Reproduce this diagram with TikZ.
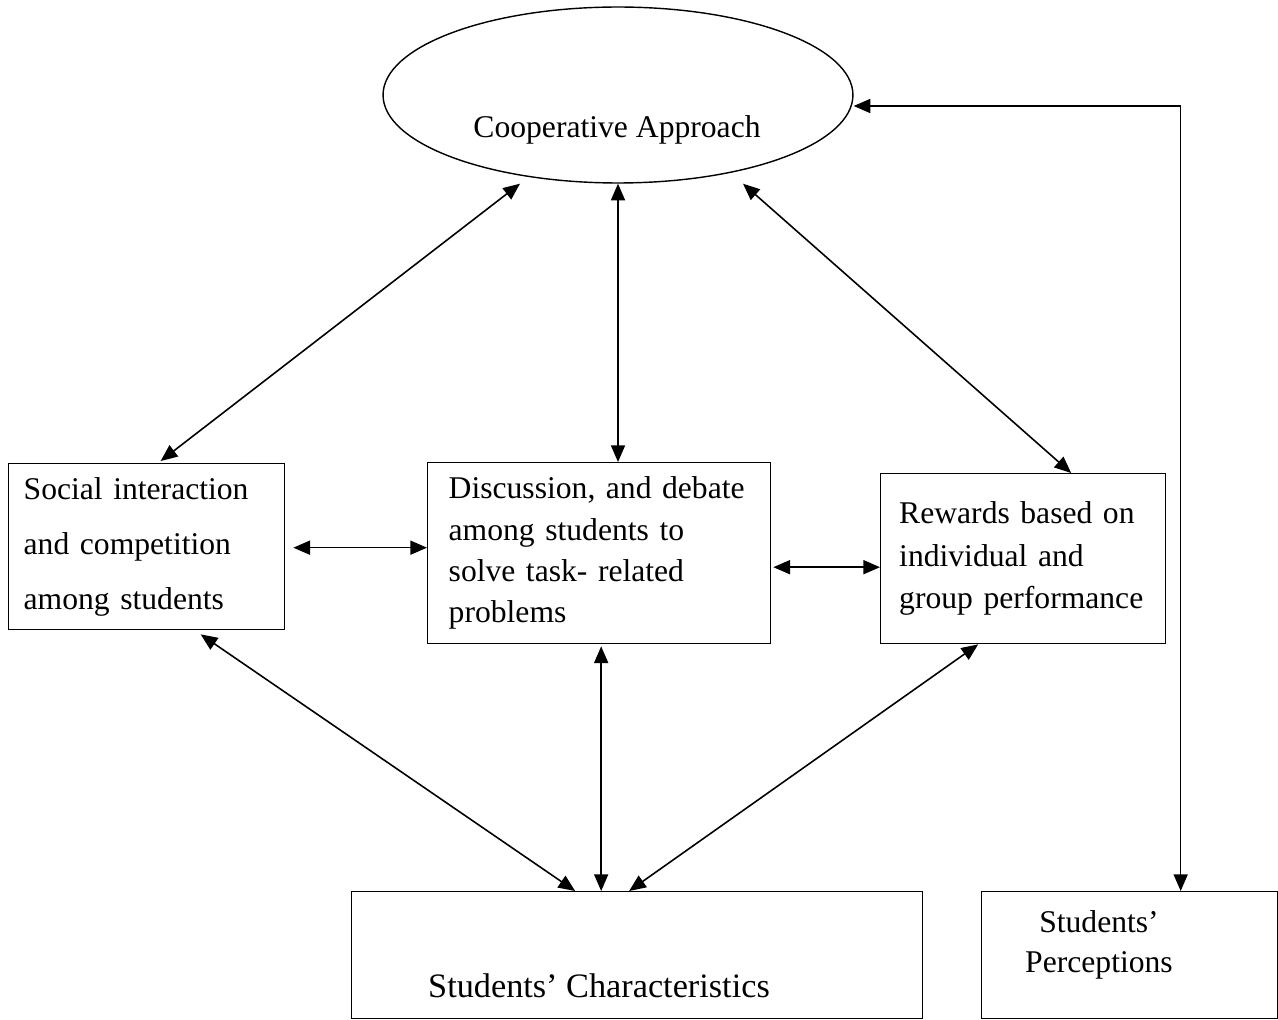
\documentclass[tikz,border=0pt]{standalone}
\usepackage{fontspec}
\setmainfont{Liberation Serif}
\usepackage{tikz}
\usetikzlibrary{shapes.geometric, arrows.meta, positioning, calc}

\begin{document}
\begin{tikzpicture}[x=0.02cm, y=-0.02cm, line width=0.8pt,
    >={Triangle[length=9.5pt,width=8pt]},
    box/.style={draw, anchor=north west, align=left, inner sep=0pt},
    oval/.style={draw, ellipse, inner sep=0pt, minimum width=9.4cm, minimum height=3.52cm},
    txt/.style={inner sep=0pt, font=\fontsize{18}{22.7}\selectfont},
    link/.style={<->, line width=0.9pt}]
    \useasboundingbox (0,0) rectangle (1278,1020);

    \node[oval] (coop) at (618,95) {};
    \node[txt, anchor=base] (coopText) at (617,138) {Cooperative Approach};

    \node[box, minimum width=5.52cm, minimum height=3.32cm, text width=4.92cm,
          font=\fontsize{18}{31.2}\selectfont] (social) at (8,463)
          {Social interaction\\and competition\\among students};
    \node[box, minimum width=6.86cm, minimum height=3.62cm, text width=6.02cm,
          font=\fontsize{18}{23.6}\selectfont] (disc) at (427,462)
          {Discussion, and debate\\among students to\\solve task- related\\problems};
    \node[box, minimum width=5.7cm, minimum height=3.4cm, text width=4.96cm,
          font=\fontsize{18}{24.2}\selectfont] (rew) at (880,473)
          {Rewards based on\\individual and\\group performance\\[14pt]};

    \node[box, minimum width=11.42cm, minimum height=2.54cm] (chars) at (351,891) {};
    \node[txt, anchor=base, font=\fontsize{19.5}{23}\selectfont] (charsText) at (599,997) {Students’ Characteristics};
    \node[box, minimum width=5.92cm, minimum height=2.54cm] (perc) at (981,891) {};
    \node[txt, anchor=north, align=center] (percText) at (1099,910) {Students’\\Perceptions};

    % helper points
    \coordinate (sd) at ($(social.east)+(8,1)$);
    \coordinate (dr) at ($(disc.east)+(2,14)$);
    \coordinate (dc) at ($(disc.south)+(2,2)$);

    % links to the approach
    \draw[link] ($(coop.south)+(-98,0)$) -- ($(social.north)+(14,-2)$);
    \draw[link] (coop.south) -- (coop.south |- disc.north);
    \draw[link] ($(coop.south)+(125,0)$) -- ($(rew.north)+(48,0)$);
    \draw[link] ($(coop.east)+(0,11)$) -| ($(perc.north)+(51,0)$);

    % between the middle boxes
    \draw[link] (sd) -- (sd -| disc.west);
    \draw[link] (dr) -- (dr -| rew.west);

    % down to the characteristics
    \draw[link] ($(social.south)+(54,4)$) -- ($(chars.north)+(-62,0)$);
    \draw[link] (dc) -- (dc |- chars.north);
    \draw[link] ($(rew.south)+(-45,0)$) -- ($(chars.north)+(-8,0)$);
\end{tikzpicture}
\end{document}
